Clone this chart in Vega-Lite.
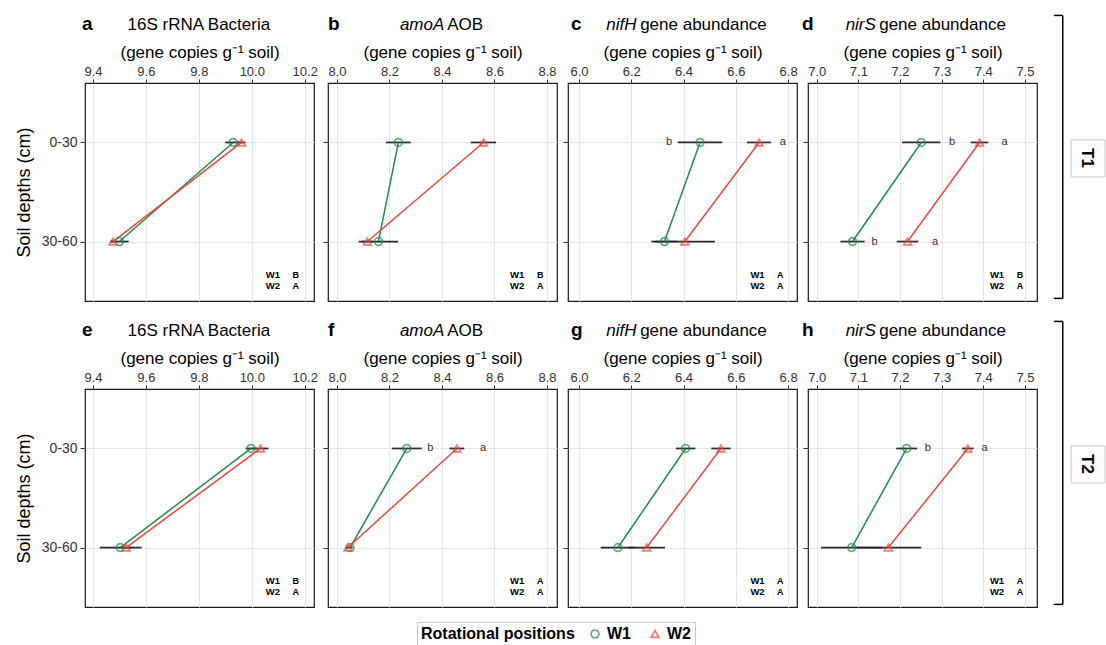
{
"$schema": "https://vega.github.io/schema/vega-lite/v6.json",
"padding": {"left": 14, "top": 14, "right": 0, "bottom": 0},
"background": "white",
"datasets": {
"pts": [
{"panel":"a","depth":"0-30","pos":"W1","mean":9.93,"lo":9.9,"hi":9.96},
{"panel":"a","depth":"0-30","pos":"W2","mean":9.961,"lo":9.946,"hi":9.976},
{"panel":"a","depth":"30-60","pos":"W1","mean":9.5,"lo":9.465,"hi":9.535},
{"panel":"a","depth":"30-60","pos":"W2","mean":9.476,"lo":9.466,"hi":9.486},
{"panel":"b","depth":"0-30","pos":"W1","mean":8.234,"lo":8.187,"hi":8.281},
{"panel":"b","depth":"0-30","pos":"W2","mean":8.558,"lo":8.51,"hi":8.606},
{"panel":"b","depth":"30-60","pos":"W1","mean":8.158,"lo":8.083,"hi":8.233},
{"panel":"b","depth":"30-60","pos":"W2","mean":8.116,"lo":8.096,"hi":8.136},
{"panel":"c","depth":"0-30","pos":"W1","mean":6.463,"lo":6.378,"hi":6.548},
{"panel":"c","depth":"0-30","pos":"W2","mean":6.689,"lo":6.643,"hi":6.735},
{"panel":"c","depth":"30-60","pos":"W1","mean":6.327,"lo":6.277,"hi":6.377},
{"panel":"c","depth":"30-60","pos":"W2","mean":6.405,"lo":6.29,"hi":6.52},
{"panel":"d","depth":"0-30","pos":"W1","mean":7.251,"lo":7.205,"hi":7.297},
{"panel":"d","depth":"0-30","pos":"W2","mean":7.391,"lo":7.37,"hi":7.412},
{"panel":"d","depth":"30-60","pos":"W1","mean":7.086,"lo":7.057,"hi":7.115},
{"panel":"d","depth":"30-60","pos":"W2","mean":7.218,"lo":7.192,"hi":7.244},
{"panel":"e","depth":"0-30","pos":"W1","mean":9.997,"lo":9.977,"hi":10.017},
{"panel":"e","depth":"0-30","pos":"W2","mean":10.033,"lo":10.003,"hi":10.063},
{"panel":"e","depth":"30-60","pos":"W1","mean":9.503,"lo":9.426,"hi":9.584},
{"panel":"e","depth":"30-60","pos":"W2","mean":9.525,"lo":9.505,"hi":9.545},
{"panel":"f","depth":"0-30","pos":"W1","mean":8.266,"lo":8.209,"hi":8.323},
{"panel":"f","depth":"0-30","pos":"W2","mean":8.457,"lo":8.429,"hi":8.485},
{"panel":"f","depth":"30-60","pos":"W1","mean":8.05,"lo":8.04,"hi":8.06},
{"panel":"f","depth":"30-60","pos":"W2","mean":8.042,"lo":8.032,"hi":8.052},
{"panel":"g","depth":"0-30","pos":"W1","mean":6.408,"lo":6.371,"hi":6.445},
{"panel":"g","depth":"0-30","pos":"W2","mean":6.543,"lo":6.506,"hi":6.58},
{"panel":"g","depth":"30-60","pos":"W1","mean":6.149,"lo":6.083,"hi":6.215},
{"panel":"g","depth":"30-60","pos":"W2","mean":6.259,"lo":6.189,"hi":6.329},
{"panel":"h","depth":"0-30","pos":"W1","mean":7.216,"lo":7.191,"hi":7.241},
{"panel":"h","depth":"0-30","pos":"W2","mean":7.363,"lo":7.349,"hi":7.377},
{"panel":"h","depth":"30-60","pos":"W1","mean":7.084,"lo":7.01,"hi":7.158},
{"panel":"h","depth":"30-60","pos":"W2","mean":7.172,"lo":7.093,"hi":7.251}
],
"letters": [
{"panel":"c","depth":"0-30","pos":"W1","letter":"b","x":6.345},
{"panel":"c","depth":"0-30","pos":"W2","letter":"a","x":6.78},
{"panel":"d","depth":"0-30","pos":"W1","letter":"b","x":7.325},
{"panel":"d","depth":"0-30","pos":"W2","letter":"a","x":7.451},
{"panel":"d","depth":"30-60","pos":"W1","letter":"b","x":7.139},
{"panel":"d","depth":"30-60","pos":"W2","letter":"a","x":7.284},
{"panel":"f","depth":"0-30","pos":"W1","letter":"b","x":8.356},
{"panel":"f","depth":"0-30","pos":"W2","letter":"a","x":8.556},
{"panel":"h","depth":"0-30","pos":"W1","letter":"b","x":7.267},
{"panel":"h","depth":"0-30","pos":"W2","letter":"a","x":7.403}
],
"sig": [
{"panel":"a","pos":"W1","group":"B"},{"panel":"a","pos":"W2","group":"A"},
{"panel":"b","pos":"W1","group":"B"},{"panel":"b","pos":"W2","group":"A"},
{"panel":"c","pos":"W1","group":"A"},{"panel":"c","pos":"W2","group":"A"},
{"panel":"d","pos":"W1","group":"B"},{"panel":"d","pos":"W2","group":"A"},
{"panel":"e","pos":"W1","group":"B"},{"panel":"e","pos":"W2","group":"A"},
{"panel":"f","pos":"W1","group":"A"},{"panel":"f","pos":"W2","group":"A"},
{"panel":"g","pos":"W1","group":"A"},{"panel":"g","pos":"W2","group":"A"},
{"panel":"h","pos":"W1","group":"A"},{"panel":"h","pos":"W2","group":"A"}
],
"titles": [
{"panel":"a","tag":"a","gene":"","name":"16S rRNA Bacteria"},
{"panel":"b","tag":"b","gene":"amoA","name":"AOB"},
{"panel":"c","tag":"c","gene":"nifH","name":"gene abundance"},
{"panel":"d","tag":"d","gene":"nirS","name":"gene abundance"},
{"panel":"e","tag":"e","gene":"","name":"16S rRNA Bacteria"},
{"panel":"f","tag":"f","gene":"amoA","name":"AOB"},
{"panel":"g","tag":"g","gene":"nifH","name":"gene abundance"},
{"panel":"h","tag":"h","gene":"nirS","name":"gene abundance"}
],
"strips": [{"label":"T1"},{"label":"T2"}]
},
"config": {
"font": "Liberation Sans",
"view": {"stroke": "#1a1a1a", "strokeWidth": 1.2},
"axis": {"grid": true, "gridColor": "#e6e6e6", "gridWidth": 1, "domain": false, "tickColor": "#333333", "tickSize": 4, "tickWidth": 1, "labelColor": "#333333", "labelFont": "Liberation Sans", "titleFont": "Liberation Sans", "titleFontWeight": "normal", "titleColor": "#000000"},
"axisX": {"labelFontSize": 13, "labelPadding": 1, "labelFlush": false, "labelOverlap": false, "titleFontSize": 17, "titlePadding": 4},
"axisY": {"labelFontSize": 14, "labelPadding": 3, "tickSize": 5, "titleFontSize": 18, "titlePadding": 8},
"legend": {"titleFontSize": 16, "titleFontWeight": "bold", "titleColor": "#000000", "labelFontSize": 16, "labelFontWeight": "bold", "labelColor": "#000000", "symbolStrokeWidth": 1.8, "symbolSize": 60}
},
"resolve": {"scale": {"color": "shared", "shape": "shared"}},
"vconcat": [
{"spacing": 3, "hconcat": [
{"width": 229, "height": 218, "layer": [
 {"data": {"name": "pts"}, "transform": [{"filter": "datum.panel=='a'"}], "mark": {"type": "rule", "color": "#2a2a2a", "strokeWidth": 1.7},
  "encoding": {"x": {"field": "lo", "type": "quantitative", "scale": {"domain": [9.37, 10.235], "nice": false, "zero": false}, "axis": {"orient": "top", "values": [9.4,9.5,9.6,9.7,9.8,9.9,10.0,10.1,10.2], "labelExpr": "round(datum.value*10)%2==0 ? format(datum.value,'.1f') : ''", "tickOpacity": {"condition": {"test": "round(datum.value*10)%2==0", "value": 1}, "value": 0}, "title": "(gene copies g⁻¹ soil)"}}, "x2": {"field": "hi"},
   "y": {"field": "depth", "type": "nominal", "scale": {"type": "point", "domain": ["0-30","30-60"], "padding": 0.6}, "axis": {"title": "Soil depths (cm)"}}}},
 {"data": {"name": "pts"}, "transform": [{"filter": "datum.panel=='a'"}], "mark": {"type": "line", "strokeWidth": 1.5},
  "encoding": {"x": {"field": "mean", "type": "quantitative", "scale": {"domain": [9.37, 10.235], "nice": false, "zero": false}}, "y": {"field": "depth", "type": "nominal", "scale": {"type": "point", "domain": ["0-30","30-60"], "padding": 0.6}}, "color": {"field": "pos", "type": "nominal", "scale": {"domain": ["W1","W2"], "range": ["#1e8c4a","#f2453b"]}, "title": "Rotational positions", "legend": {"orient": "none", "legendX": 332, "legendY": 539, "direction": "horizontal", "titleOrient": "left", "strokeColor": "#c8c8c8", "fillColor": "white", "padding": 4, "columnPadding": 16, "titlePadding": 12}}}},
 {"data": {"name": "pts"}, "transform": [{"filter": "datum.panel=='a'"}], "mark": {"type": "point", "filled": false, "strokeWidth": 1.7, "size": 60},
  "encoding": {"x": {"field": "mean", "type": "quantitative", "scale": {"domain": [9.37, 10.235], "nice": false, "zero": false}}, "y": {"field": "depth", "type": "nominal", "scale": {"type": "point", "domain": ["0-30","30-60"], "padding": 0.6}}, "color": {"field": "pos", "type": "nominal", "scale": {"domain": ["W1","W2"], "range": ["#1e8c4a","#f2453b"]}, "title": "Rotational positions", "legend": {"orient": "none", "legendX": 332, "legendY": 539, "direction": "horizontal", "titleOrient": "left", "strokeColor": "#c8c8c8", "fillColor": "white", "padding": 4, "columnPadding": 16, "titlePadding": 12}}, "shape": {"field": "pos", "type": "nominal", "scale": {"domain": ["W1","W2"], "range": ["circle","triangle-up"]}, "title": "Rotational positions", "legend": {"orient": "none", "legendX": 332, "legendY": 539, "direction": "horizontal", "titleOrient": "left", "strokeColor": "#c8c8c8", "fillColor": "white", "padding": 4, "columnPadding": 16, "titlePadding": 12}}}},
 {"data": {"name": "sig"}, "transform": [{"filter": "datum.panel=='a' && datum.pos=='W1'"}], "mark": {"type": "text", "fontWeight": "bold", "fontSize": 9.5, "dy": 33.5},
  "encoding": {"x": {"datum": 10.08, "type": "quantitative", "scale": {"domain": [9.37, 10.235], "nice": false, "zero": false}}, "y": {"datum": "30-60", "type": "nominal", "scale": {"type": "point", "domain": ["0-30","30-60"], "padding": 0.6}}, "text": {"field": "pos"}}},
 {"data": {"name": "sig"}, "transform": [{"filter": "datum.panel=='a' && datum.pos=='W1'"}], "mark": {"type": "text", "fontWeight": "bold", "fontSize": 9, "dy": 33.5},
  "encoding": {"x": {"datum": 10.166, "type": "quantitative", "scale": {"domain": [9.37, 10.235], "nice": false, "zero": false}}, "y": {"datum": "30-60", "type": "nominal", "scale": {"type": "point", "domain": ["0-30","30-60"], "padding": 0.6}}, "text": {"field": "group"}}},
 {"data": {"name": "sig"}, "transform": [{"filter": "datum.panel=='a' && datum.pos=='W2'"}], "mark": {"type": "text", "fontWeight": "bold", "fontSize": 9.5, "dy": 44.5},
  "encoding": {"x": {"datum": 10.08, "type": "quantitative", "scale": {"domain": [9.37, 10.235], "nice": false, "zero": false}}, "y": {"datum": "30-60", "type": "nominal", "scale": {"type": "point", "domain": ["0-30","30-60"], "padding": 0.6}}, "text": {"field": "pos"}}},
 {"data": {"name": "sig"}, "transform": [{"filter": "datum.panel=='a' && datum.pos=='W2'"}], "mark": {"type": "text", "fontWeight": "bold", "fontSize": 9, "dy": 44.5},
  "encoding": {"x": {"datum": 10.166, "type": "quantitative", "scale": {"domain": [9.37, 10.235], "nice": false, "zero": false}}, "y": {"datum": "30-60", "type": "nominal", "scale": {"type": "point", "domain": ["0-30","30-60"], "padding": 0.6}}, "text": {"field": "group"}}},
 {"data": {"name": "titles"}, "transform": [{"filter": "datum.panel=='a'"}], "mark": {"type": "text", "fontWeight": "bold", "fontSize": 19, "align": "left", "baseline": "alphabetic", "dy": -112.5, "dx": -3},
  "encoding": {"x": {"datum": 9.37, "type": "quantitative", "scale": {"domain": [9.37, 10.235], "nice": false, "zero": false}}, "y": {"datum": "0-30", "type": "nominal", "scale": {"type": "point", "domain": ["0-30","30-60"], "padding": 0.6}}, "text": {"field": "tag"}}},
 {"data": {"name": "titles"}, "transform": [{"filter": "datum.panel=='a'"}], "mark": {"type": "text", "fontSize": 17, "align": "center", "baseline": "alphabetic", "dy": -112.5},
  "encoding": {"x": {"datum": 9.8, "type": "quantitative", "scale": {"domain": [9.37, 10.235], "nice": false, "zero": false}}, "y": {"datum": "0-30", "type": "nominal", "scale": {"type": "point", "domain": ["0-30","30-60"], "padding": 0.6}}, "text": {"field": "name"}}}
]},
{"width": 229, "height": 218, "layer": [
 {"data": {"name": "pts"}, "transform": [{"filter": "datum.panel=='b'"}], "mark": {"type": "rule", "color": "#2a2a2a", "strokeWidth": 1.7},
  "encoding": {"x": {"field": "lo", "type": "quantitative", "scale": {"domain": [7.966, 8.838], "nice": false, "zero": false}, "axis": {"orient": "top", "values": [8.0,8.1,8.2,8.3,8.4,8.5,8.6,8.7,8.8], "labelExpr": "round(datum.value*10)%2==0 ? format(datum.value,'.1f') : ''", "tickOpacity": {"condition": {"test": "round(datum.value*10)%2==0", "value": 1}, "value": 0}, "title": "(gene copies g⁻¹ soil)"}}, "x2": {"field": "hi"},
   "y": {"field": "depth", "type": "nominal", "scale": {"type": "point", "domain": ["0-30","30-60"], "padding": 0.6}, "axis": {"labels": false, "title": null}}}},
 {"data": {"name": "pts"}, "transform": [{"filter": "datum.panel=='b'"}], "mark": {"type": "line", "strokeWidth": 1.5},
  "encoding": {"x": {"field": "mean", "type": "quantitative", "scale": {"domain": [7.966, 8.838], "nice": false, "zero": false}}, "y": {"field": "depth", "type": "nominal", "scale": {"type": "point", "domain": ["0-30","30-60"], "padding": 0.6}}, "color": {"field": "pos", "type": "nominal", "scale": {"domain": ["W1","W2"], "range": ["#1e8c4a","#f2453b"]}, "title": "Rotational positions"}}},
 {"data": {"name": "pts"}, "transform": [{"filter": "datum.panel=='b'"}], "mark": {"type": "point", "filled": false, "strokeWidth": 1.7, "size": 60},
  "encoding": {"x": {"field": "mean", "type": "quantitative", "scale": {"domain": [7.966, 8.838], "nice": false, "zero": false}}, "y": {"field": "depth", "type": "nominal", "scale": {"type": "point", "domain": ["0-30","30-60"], "padding": 0.6}}, "color": {"field": "pos", "type": "nominal", "scale": {"domain": ["W1","W2"], "range": ["#1e8c4a","#f2453b"]}, "title": "Rotational positions"}, "shape": {"field": "pos", "type": "nominal", "scale": {"domain": ["W1","W2"], "range": ["circle","triangle-up"]}, "title": "Rotational positions"}}},
 {"data": {"name": "sig"}, "transform": [{"filter": "datum.panel=='b' && datum.pos=='W1'"}], "mark": {"type": "text", "fontWeight": "bold", "fontSize": 9.5, "dy": 33.5},
  "encoding": {"x": {"datum": 8.686, "type": "quantitative", "scale": {"domain": [7.966, 8.838], "nice": false, "zero": false}}, "y": {"datum": "30-60", "type": "nominal", "scale": {"type": "point", "domain": ["0-30","30-60"], "padding": 0.6}}, "text": {"field": "pos"}}},
 {"data": {"name": "sig"}, "transform": [{"filter": "datum.panel=='b' && datum.pos=='W1'"}], "mark": {"type": "text", "fontWeight": "bold", "fontSize": 9, "dy": 33.5},
  "encoding": {"x": {"datum": 8.774, "type": "quantitative", "scale": {"domain": [7.966, 8.838], "nice": false, "zero": false}}, "y": {"datum": "30-60", "type": "nominal", "scale": {"type": "point", "domain": ["0-30","30-60"], "padding": 0.6}}, "text": {"field": "group"}}},
 {"data": {"name": "sig"}, "transform": [{"filter": "datum.panel=='b' && datum.pos=='W2'"}], "mark": {"type": "text", "fontWeight": "bold", "fontSize": 9.5, "dy": 44.5},
  "encoding": {"x": {"datum": 8.686, "type": "quantitative", "scale": {"domain": [7.966, 8.838], "nice": false, "zero": false}}, "y": {"datum": "30-60", "type": "nominal", "scale": {"type": "point", "domain": ["0-30","30-60"], "padding": 0.6}}, "text": {"field": "pos"}}},
 {"data": {"name": "sig"}, "transform": [{"filter": "datum.panel=='b' && datum.pos=='W2'"}], "mark": {"type": "text", "fontWeight": "bold", "fontSize": 9, "dy": 44.5},
  "encoding": {"x": {"datum": 8.774, "type": "quantitative", "scale": {"domain": [7.966, 8.838], "nice": false, "zero": false}}, "y": {"datum": "30-60", "type": "nominal", "scale": {"type": "point", "domain": ["0-30","30-60"], "padding": 0.6}}, "text": {"field": "group"}}},
 {"data": {"name": "titles"}, "transform": [{"filter": "datum.panel=='b'"}], "mark": {"type": "text", "fontWeight": "bold", "fontSize": 19, "align": "left", "baseline": "alphabetic", "dy": -112.5, "dx": 0},
  "encoding": {"x": {"datum": 7.966, "type": "quantitative", "scale": {"domain": [7.966, 8.838], "nice": false, "zero": false}}, "y": {"datum": "0-30", "type": "nominal", "scale": {"type": "point", "domain": ["0-30","30-60"], "padding": 0.6}}, "text": {"field": "tag"}}},
 {"data": {"name": "titles"}, "transform": [{"filter": "datum.panel=='b'"}], "mark": {"type": "text", "fontSize": 17, "fontStyle": "italic", "align": "right", "baseline": "alphabetic", "dy": -112.5},
  "encoding": {"x": {"datum": 8.409, "type": "quantitative", "scale": {"domain": [7.966, 8.838], "nice": false, "zero": false}}, "y": {"datum": "0-30", "type": "nominal", "scale": {"type": "point", "domain": ["0-30","30-60"], "padding": 0.6}}, "text": {"field": "gene"}}},
 {"data": {"name": "titles"}, "transform": [{"filter": "datum.panel=='b'"}], "mark": {"type": "text", "fontSize": 17, "align": "left", "baseline": "alphabetic", "dy": -112.5},
  "encoding": {"x": {"datum": 8.42, "type": "quantitative", "scale": {"domain": [7.966, 8.838], "nice": false, "zero": false}}, "y": {"datum": "0-30", "type": "nominal", "scale": {"type": "point", "domain": ["0-30","30-60"], "padding": 0.6}}, "text": {"field": "name"}}}
]},
{"width": 229, "height": 218, "layer": [
 {"data": {"name": "pts"}, "transform": [{"filter": "datum.panel=='c'"}], "mark": {"type": "rule", "color": "#2a2a2a", "strokeWidth": 1.7},
  "encoding": {"x": {"field": "lo", "type": "quantitative", "scale": {"domain": [5.958, 6.834], "nice": false, "zero": false}, "axis": {"orient": "top", "values": [6.0,6.1,6.2,6.3,6.4,6.5,6.6,6.7,6.8], "labelExpr": "round(datum.value*10)%2==0 ? format(datum.value,'.1f') : ''", "tickOpacity": {"condition": {"test": "round(datum.value*10)%2==0", "value": 1}, "value": 0}, "title": "(gene copies g⁻¹ soil)"}}, "x2": {"field": "hi"},
   "y": {"field": "depth", "type": "nominal", "scale": {"type": "point", "domain": ["0-30","30-60"], "padding": 0.6}, "axis": {"labels": false, "title": null}}}},
 {"data": {"name": "pts"}, "transform": [{"filter": "datum.panel=='c'"}], "mark": {"type": "line", "strokeWidth": 1.5},
  "encoding": {"x": {"field": "mean", "type": "quantitative", "scale": {"domain": [5.958, 6.834], "nice": false, "zero": false}}, "y": {"field": "depth", "type": "nominal", "scale": {"type": "point", "domain": ["0-30","30-60"], "padding": 0.6}}, "color": {"field": "pos", "type": "nominal", "scale": {"domain": ["W1","W2"], "range": ["#1e8c4a","#f2453b"]}, "title": "Rotational positions"}}},
 {"data": {"name": "pts"}, "transform": [{"filter": "datum.panel=='c'"}], "mark": {"type": "point", "filled": false, "strokeWidth": 1.7, "size": 60},
  "encoding": {"x": {"field": "mean", "type": "quantitative", "scale": {"domain": [5.958, 6.834], "nice": false, "zero": false}}, "y": {"field": "depth", "type": "nominal", "scale": {"type": "point", "domain": ["0-30","30-60"], "padding": 0.6}}, "color": {"field": "pos", "type": "nominal", "scale": {"domain": ["W1","W2"], "range": ["#1e8c4a","#f2453b"]}, "title": "Rotational positions"}, "shape": {"field": "pos", "type": "nominal", "scale": {"domain": ["W1","W2"], "range": ["circle","triangle-up"]}, "title": "Rotational positions"}}},
 {"data": {"name": "letters"}, "transform": [{"filter": "datum.panel=='c'"}], "mark": {"type": "text", "fontSize": 11, "color": "#333333"},
  "encoding": {"x": {"field": "x", "type": "quantitative", "scale": {"domain": [5.958, 6.834], "nice": false, "zero": false}}, "y": {"field": "depth", "type": "nominal", "scale": {"type": "point", "domain": ["0-30","30-60"], "padding": 0.6}}, "text": {"field": "letter"}}},
 {"data": {"name": "sig"}, "transform": [{"filter": "datum.panel=='c' && datum.pos=='W1'"}], "mark": {"type": "text", "fontWeight": "bold", "fontSize": 9.5, "dy": 33.5},
  "encoding": {"x": {"datum": 6.683, "type": "quantitative", "scale": {"domain": [5.958, 6.834], "nice": false, "zero": false}}, "y": {"datum": "30-60", "type": "nominal", "scale": {"type": "point", "domain": ["0-30","30-60"], "padding": 0.6}}, "text": {"field": "pos"}}},
 {"data": {"name": "sig"}, "transform": [{"filter": "datum.panel=='c' && datum.pos=='W1'"}], "mark": {"type": "text", "fontWeight": "bold", "fontSize": 9, "dy": 33.5},
  "encoding": {"x": {"datum": 6.77, "type": "quantitative", "scale": {"domain": [5.958, 6.834], "nice": false, "zero": false}}, "y": {"datum": "30-60", "type": "nominal", "scale": {"type": "point", "domain": ["0-30","30-60"], "padding": 0.6}}, "text": {"field": "group"}}},
 {"data": {"name": "sig"}, "transform": [{"filter": "datum.panel=='c' && datum.pos=='W2'"}], "mark": {"type": "text", "fontWeight": "bold", "fontSize": 9.5, "dy": 44.5},
  "encoding": {"x": {"datum": 6.683, "type": "quantitative", "scale": {"domain": [5.958, 6.834], "nice": false, "zero": false}}, "y": {"datum": "30-60", "type": "nominal", "scale": {"type": "point", "domain": ["0-30","30-60"], "padding": 0.6}}, "text": {"field": "pos"}}},
 {"data": {"name": "sig"}, "transform": [{"filter": "datum.panel=='c' && datum.pos=='W2'"}], "mark": {"type": "text", "fontWeight": "bold", "fontSize": 9, "dy": 44.5},
  "encoding": {"x": {"datum": 6.77, "type": "quantitative", "scale": {"domain": [5.958, 6.834], "nice": false, "zero": false}}, "y": {"datum": "30-60", "type": "nominal", "scale": {"type": "point", "domain": ["0-30","30-60"], "padding": 0.6}}, "text": {"field": "group"}}},
 {"data": {"name": "titles"}, "transform": [{"filter": "datum.panel=='c'"}], "mark": {"type": "text", "fontWeight": "bold", "fontSize": 19, "align": "left", "baseline": "alphabetic", "dy": -112.5, "dx": 3},
  "encoding": {"x": {"datum": 5.958, "type": "quantitative", "scale": {"domain": [5.958, 6.834], "nice": false, "zero": false}}, "y": {"datum": "0-30", "type": "nominal", "scale": {"type": "point", "domain": ["0-30","30-60"], "padding": 0.6}}, "text": {"field": "tag"}}},
 {"data": {"name": "titles"}, "transform": [{"filter": "datum.panel=='c'"}], "mark": {"type": "text", "fontSize": 17, "fontStyle": "italic", "align": "right", "baseline": "alphabetic", "dy": -112.5},
  "encoding": {"x": {"datum": 6.22, "type": "quantitative", "scale": {"domain": [5.958, 6.834], "nice": false, "zero": false}}, "y": {"datum": "0-30", "type": "nominal", "scale": {"type": "point", "domain": ["0-30","30-60"], "padding": 0.6}}, "text": {"field": "gene"}}},
 {"data": {"name": "titles"}, "transform": [{"filter": "datum.panel=='c'"}], "mark": {"type": "text", "fontSize": 17, "align": "left", "baseline": "alphabetic", "dy": -112.5},
  "encoding": {"x": {"datum": 6.234, "type": "quantitative", "scale": {"domain": [5.958, 6.834], "nice": false, "zero": false}}, "y": {"datum": "0-30", "type": "nominal", "scale": {"type": "point", "domain": ["0-30","30-60"], "padding": 0.6}}, "text": {"field": "name"}}}
]},
{"width": 229, "height": 218, "layer": [
 {"data": {"name": "pts"}, "transform": [{"filter": "datum.panel=='d'"}], "mark": {"type": "rule", "color": "#2a2a2a", "strokeWidth": 1.7},
  "encoding": {"x": {"field": "lo", "type": "quantitative", "scale": {"domain": [6.979, 7.529], "nice": false, "zero": false}, "axis": {"orient": "top", "values": [7.0,7.05,7.1,7.15,7.2,7.25,7.3,7.35,7.4,7.45,7.5], "labelExpr": "round(datum.value*20)%2==0 ? format(datum.value,'.1f') : ''", "tickOpacity": {"condition": {"test": "round(datum.value*20)%2==0", "value": 1}, "value": 0}, "title": "(gene copies g⁻¹ soil)"}}, "x2": {"field": "hi"},
   "y": {"field": "depth", "type": "nominal", "scale": {"type": "point", "domain": ["0-30","30-60"], "padding": 0.6}, "axis": {"labels": false, "title": null}}}},
 {"data": {"name": "pts"}, "transform": [{"filter": "datum.panel=='d'"}], "mark": {"type": "line", "strokeWidth": 1.5},
  "encoding": {"x": {"field": "mean", "type": "quantitative", "scale": {"domain": [6.979, 7.529], "nice": false, "zero": false}}, "y": {"field": "depth", "type": "nominal", "scale": {"type": "point", "domain": ["0-30","30-60"], "padding": 0.6}}, "color": {"field": "pos", "type": "nominal", "scale": {"domain": ["W1","W2"], "range": ["#1e8c4a","#f2453b"]}, "title": "Rotational positions"}}},
 {"data": {"name": "pts"}, "transform": [{"filter": "datum.panel=='d'"}], "mark": {"type": "point", "filled": false, "strokeWidth": 1.7, "size": 60},
  "encoding": {"x": {"field": "mean", "type": "quantitative", "scale": {"domain": [6.979, 7.529], "nice": false, "zero": false}}, "y": {"field": "depth", "type": "nominal", "scale": {"type": "point", "domain": ["0-30","30-60"], "padding": 0.6}}, "color": {"field": "pos", "type": "nominal", "scale": {"domain": ["W1","W2"], "range": ["#1e8c4a","#f2453b"]}, "title": "Rotational positions"}, "shape": {"field": "pos", "type": "nominal", "scale": {"domain": ["W1","W2"], "range": ["circle","triangle-up"]}, "title": "Rotational positions"}}},
 {"data": {"name": "letters"}, "transform": [{"filter": "datum.panel=='d'"}], "mark": {"type": "text", "fontSize": 11, "color": "#333333"},
  "encoding": {"x": {"field": "x", "type": "quantitative", "scale": {"domain": [6.979, 7.529], "nice": false, "zero": false}}, "y": {"field": "depth", "type": "nominal", "scale": {"type": "point", "domain": ["0-30","30-60"], "padding": 0.6}}, "text": {"field": "letter"}}},
 {"data": {"name": "sig"}, "transform": [{"filter": "datum.panel=='d' && datum.pos=='W1'"}], "mark": {"type": "text", "fontWeight": "bold", "fontSize": 9.5, "dy": 33.5},
  "encoding": {"x": {"datum": 7.433, "type": "quantitative", "scale": {"domain": [6.979, 7.529], "nice": false, "zero": false}}, "y": {"datum": "30-60", "type": "nominal", "scale": {"type": "point", "domain": ["0-30","30-60"], "padding": 0.6}}, "text": {"field": "pos"}}},
 {"data": {"name": "sig"}, "transform": [{"filter": "datum.panel=='d' && datum.pos=='W1'"}], "mark": {"type": "text", "fontWeight": "bold", "fontSize": 9, "dy": 33.5},
  "encoding": {"x": {"datum": 7.488, "type": "quantitative", "scale": {"domain": [6.979, 7.529], "nice": false, "zero": false}}, "y": {"datum": "30-60", "type": "nominal", "scale": {"type": "point", "domain": ["0-30","30-60"], "padding": 0.6}}, "text": {"field": "group"}}},
 {"data": {"name": "sig"}, "transform": [{"filter": "datum.panel=='d' && datum.pos=='W2'"}], "mark": {"type": "text", "fontWeight": "bold", "fontSize": 9.5, "dy": 44.5},
  "encoding": {"x": {"datum": 7.433, "type": "quantitative", "scale": {"domain": [6.979, 7.529], "nice": false, "zero": false}}, "y": {"datum": "30-60", "type": "nominal", "scale": {"type": "point", "domain": ["0-30","30-60"], "padding": 0.6}}, "text": {"field": "pos"}}},
 {"data": {"name": "sig"}, "transform": [{"filter": "datum.panel=='d' && datum.pos=='W2'"}], "mark": {"type": "text", "fontWeight": "bold", "fontSize": 9, "dy": 44.5},
  "encoding": {"x": {"datum": 7.488, "type": "quantitative", "scale": {"domain": [6.979, 7.529], "nice": false, "zero": false}}, "y": {"datum": "30-60", "type": "nominal", "scale": {"type": "point", "domain": ["0-30","30-60"], "padding": 0.6}}, "text": {"field": "group"}}},
 {"data": {"name": "titles"}, "transform": [{"filter": "datum.panel=='d'"}], "mark": {"type": "text", "fontWeight": "bold", "fontSize": 19, "align": "left", "baseline": "alphabetic", "dy": -112.5, "dx": -6},
  "encoding": {"x": {"datum": 6.979, "type": "quantitative", "scale": {"domain": [6.979, 7.529], "nice": false, "zero": false}}, "y": {"datum": "0-30", "type": "nominal", "scale": {"type": "point", "domain": ["0-30","30-60"], "padding": 0.6}}, "text": {"field": "tag"}}},
 {"data": {"name": "titles"}, "transform": [{"filter": "datum.panel=='d'"}], "mark": {"type": "text", "fontSize": 17, "fontStyle": "italic", "align": "right", "baseline": "alphabetic", "dy": -112.5},
  "encoding": {"x": {"datum": 7.142, "type": "quantitative", "scale": {"domain": [6.979, 7.529], "nice": false, "zero": false}}, "y": {"datum": "0-30", "type": "nominal", "scale": {"type": "point", "domain": ["0-30","30-60"], "padding": 0.6}}, "text": {"field": "gene"}}},
 {"data": {"name": "titles"}, "transform": [{"filter": "datum.panel=='d'"}], "mark": {"type": "text", "fontSize": 17, "align": "left", "baseline": "alphabetic", "dy": -112.5},
  "encoding": {"x": {"datum": 7.15, "type": "quantitative", "scale": {"domain": [6.979, 7.529], "nice": false, "zero": false}}, "y": {"datum": "0-30", "type": "nominal", "scale": {"type": "point", "domain": ["0-30","30-60"], "padding": 0.6}}, "text": {"field": "name"}}}
]},
{"width": 64, "height": 218, "view": {"stroke": null}, "data": {"name": "strips"}, "transform": [{"filter": "datum.label=='T1'"}], "layer": [
 {"mark": {"type": "rule", "color": "#000000", "strokeWidth": 1.5}, "encoding": {"x": {"datum": 0.34, "type": "quantitative", "scale": {"domain": [0, 1]}, "axis": null}, "y": {"datum": 0.012, "type": "quantitative", "scale": {"domain": [0, 1]}, "axis": null}, "y2": {"datum": 1.31}}},
 {"mark": {"type": "rule", "color": "#000000", "strokeWidth": 1.5}, "encoding": {"x": {"datum": 0.2, "type": "quantitative", "scale": {"domain": [0, 1]}, "axis": null}, "x2": {"datum": 0.34}, "y": {"datum": 1.31, "type": "quantitative", "scale": {"domain": [0, 1]}, "axis": null}}},
 {"mark": {"type": "rule", "color": "#000000", "strokeWidth": 1.5}, "encoding": {"x": {"datum": 0.2, "type": "quantitative", "scale": {"domain": [0, 1]}, "axis": null}, "x2": {"datum": 0.34}, "y": {"datum": 0.012, "type": "quantitative", "scale": {"domain": [0, 1]}, "axis": null}}},
 {"mark": {"type": "rect", "fill": "white", "stroke": "#c8c8c8", "strokeWidth": 1}, "encoding": {"x": {"datum": 0.47, "type": "quantitative", "scale": {"domain": [0, 1]}, "axis": null}, "x2": {"datum": 1.0}, "y": {"datum": 0.569, "type": "quantitative", "scale": {"domain": [0, 1]}, "axis": null}, "y2": {"datum": 0.739}}},
 {"mark": {"type": "text", "angle": 90, "fontWeight": "bold", "fontSize": 17, "color": "#000000"}, "encoding": {"x": {"datum": 0.72, "type": "quantitative", "scale": {"domain": [0, 1]}, "axis": null}, "y": {"datum": 0.656, "type": "quantitative", "scale": {"domain": [0, 1]}, "axis": null}, "text": {"field": "label"}}}
]}
]},
{"spacing": 3, "hconcat": [
{"width": 229, "height": 218, "layer": [
 {"data": {"name": "pts"}, "transform": [{"filter": "datum.panel=='e'"}], "mark": {"type": "rule", "color": "#2a2a2a", "strokeWidth": 1.7},
  "encoding": {"x": {"field": "lo", "type": "quantitative", "scale": {"domain": [9.37, 10.235], "nice": false, "zero": false}, "axis": {"orient": "top", "values": [9.4,9.5,9.6,9.7,9.8,9.9,10.0,10.1,10.2], "labelExpr": "round(datum.value*10)%2==0 ? format(datum.value,'.1f') : ''", "tickOpacity": {"condition": {"test": "round(datum.value*10)%2==0", "value": 1}, "value": 0}, "title": "(gene copies g⁻¹ soil)"}}, "x2": {"field": "hi"},
   "y": {"field": "depth", "type": "nominal", "scale": {"type": "point", "domain": ["0-30","30-60"], "padding": 0.6}, "axis": {"title": "Soil depths (cm)"}}}},
 {"data": {"name": "pts"}, "transform": [{"filter": "datum.panel=='e'"}], "mark": {"type": "line", "strokeWidth": 1.5},
  "encoding": {"x": {"field": "mean", "type": "quantitative", "scale": {"domain": [9.37, 10.235], "nice": false, "zero": false}}, "y": {"field": "depth", "type": "nominal", "scale": {"type": "point", "domain": ["0-30","30-60"], "padding": 0.6}}, "color": {"field": "pos", "type": "nominal", "scale": {"domain": ["W1","W2"], "range": ["#1e8c4a","#f2453b"]}, "title": "Rotational positions"}}},
 {"data": {"name": "pts"}, "transform": [{"filter": "datum.panel=='e'"}], "mark": {"type": "point", "filled": false, "strokeWidth": 1.7, "size": 60},
  "encoding": {"x": {"field": "mean", "type": "quantitative", "scale": {"domain": [9.37, 10.235], "nice": false, "zero": false}}, "y": {"field": "depth", "type": "nominal", "scale": {"type": "point", "domain": ["0-30","30-60"], "padding": 0.6}}, "color": {"field": "pos", "type": "nominal", "scale": {"domain": ["W1","W2"], "range": ["#1e8c4a","#f2453b"]}, "title": "Rotational positions"}, "shape": {"field": "pos", "type": "nominal", "scale": {"domain": ["W1","W2"], "range": ["circle","triangle-up"]}, "title": "Rotational positions"}}},
 {"data": {"name": "sig"}, "transform": [{"filter": "datum.panel=='e' && datum.pos=='W1'"}], "mark": {"type": "text", "fontWeight": "bold", "fontSize": 9.5, "dy": 33.5},
  "encoding": {"x": {"datum": 10.08, "type": "quantitative", "scale": {"domain": [9.37, 10.235], "nice": false, "zero": false}}, "y": {"datum": "30-60", "type": "nominal", "scale": {"type": "point", "domain": ["0-30","30-60"], "padding": 0.6}}, "text": {"field": "pos"}}},
 {"data": {"name": "sig"}, "transform": [{"filter": "datum.panel=='e' && datum.pos=='W1'"}], "mark": {"type": "text", "fontWeight": "bold", "fontSize": 9, "dy": 33.5},
  "encoding": {"x": {"datum": 10.166, "type": "quantitative", "scale": {"domain": [9.37, 10.235], "nice": false, "zero": false}}, "y": {"datum": "30-60", "type": "nominal", "scale": {"type": "point", "domain": ["0-30","30-60"], "padding": 0.6}}, "text": {"field": "group"}}},
 {"data": {"name": "sig"}, "transform": [{"filter": "datum.panel=='e' && datum.pos=='W2'"}], "mark": {"type": "text", "fontWeight": "bold", "fontSize": 9.5, "dy": 44.5},
  "encoding": {"x": {"datum": 10.08, "type": "quantitative", "scale": {"domain": [9.37, 10.235], "nice": false, "zero": false}}, "y": {"datum": "30-60", "type": "nominal", "scale": {"type": "point", "domain": ["0-30","30-60"], "padding": 0.6}}, "text": {"field": "pos"}}},
 {"data": {"name": "sig"}, "transform": [{"filter": "datum.panel=='e' && datum.pos=='W2'"}], "mark": {"type": "text", "fontWeight": "bold", "fontSize": 9, "dy": 44.5},
  "encoding": {"x": {"datum": 10.166, "type": "quantitative", "scale": {"domain": [9.37, 10.235], "nice": false, "zero": false}}, "y": {"datum": "30-60", "type": "nominal", "scale": {"type": "point", "domain": ["0-30","30-60"], "padding": 0.6}}, "text": {"field": "group"}}},
 {"data": {"name": "titles"}, "transform": [{"filter": "datum.panel=='e'"}], "mark": {"type": "text", "fontWeight": "bold", "fontSize": 19, "align": "left", "baseline": "alphabetic", "dy": -112.5, "dx": -3},
  "encoding": {"x": {"datum": 9.37, "type": "quantitative", "scale": {"domain": [9.37, 10.235], "nice": false, "zero": false}}, "y": {"datum": "0-30", "type": "nominal", "scale": {"type": "point", "domain": ["0-30","30-60"], "padding": 0.6}}, "text": {"field": "tag"}}},
 {"data": {"name": "titles"}, "transform": [{"filter": "datum.panel=='e'"}], "mark": {"type": "text", "fontSize": 17, "align": "center", "baseline": "alphabetic", "dy": -112.5},
  "encoding": {"x": {"datum": 9.8, "type": "quantitative", "scale": {"domain": [9.37, 10.235], "nice": false, "zero": false}}, "y": {"datum": "0-30", "type": "nominal", "scale": {"type": "point", "domain": ["0-30","30-60"], "padding": 0.6}}, "text": {"field": "name"}}}
]},
{"width": 229, "height": 218, "layer": [
 {"data": {"name": "pts"}, "transform": [{"filter": "datum.panel=='f'"}], "mark": {"type": "rule", "color": "#2a2a2a", "strokeWidth": 1.7},
  "encoding": {"x": {"field": "lo", "type": "quantitative", "scale": {"domain": [7.966, 8.838], "nice": false, "zero": false}, "axis": {"orient": "top", "values": [8.0,8.1,8.2,8.3,8.4,8.5,8.6,8.7,8.8], "labelExpr": "round(datum.value*10)%2==0 ? format(datum.value,'.1f') : ''", "tickOpacity": {"condition": {"test": "round(datum.value*10)%2==0", "value": 1}, "value": 0}, "title": "(gene copies g⁻¹ soil)"}}, "x2": {"field": "hi"},
   "y": {"field": "depth", "type": "nominal", "scale": {"type": "point", "domain": ["0-30","30-60"], "padding": 0.6}, "axis": {"labels": false, "title": null}}}},
 {"data": {"name": "pts"}, "transform": [{"filter": "datum.panel=='f'"}], "mark": {"type": "line", "strokeWidth": 1.5},
  "encoding": {"x": {"field": "mean", "type": "quantitative", "scale": {"domain": [7.966, 8.838], "nice": false, "zero": false}}, "y": {"field": "depth", "type": "nominal", "scale": {"type": "point", "domain": ["0-30","30-60"], "padding": 0.6}}, "color": {"field": "pos", "type": "nominal", "scale": {"domain": ["W1","W2"], "range": ["#1e8c4a","#f2453b"]}, "title": "Rotational positions"}}},
 {"data": {"name": "pts"}, "transform": [{"filter": "datum.panel=='f'"}], "mark": {"type": "point", "filled": false, "strokeWidth": 1.7, "size": 60},
  "encoding": {"x": {"field": "mean", "type": "quantitative", "scale": {"domain": [7.966, 8.838], "nice": false, "zero": false}}, "y": {"field": "depth", "type": "nominal", "scale": {"type": "point", "domain": ["0-30","30-60"], "padding": 0.6}}, "color": {"field": "pos", "type": "nominal", "scale": {"domain": ["W1","W2"], "range": ["#1e8c4a","#f2453b"]}, "title": "Rotational positions"}, "shape": {"field": "pos", "type": "nominal", "scale": {"domain": ["W1","W2"], "range": ["circle","triangle-up"]}, "title": "Rotational positions"}}},
 {"data": {"name": "letters"}, "transform": [{"filter": "datum.panel=='f'"}], "mark": {"type": "text", "fontSize": 11, "color": "#333333"},
  "encoding": {"x": {"field": "x", "type": "quantitative", "scale": {"domain": [7.966, 8.838], "nice": false, "zero": false}}, "y": {"field": "depth", "type": "nominal", "scale": {"type": "point", "domain": ["0-30","30-60"], "padding": 0.6}}, "text": {"field": "letter"}}},
 {"data": {"name": "sig"}, "transform": [{"filter": "datum.panel=='f' && datum.pos=='W1'"}], "mark": {"type": "text", "fontWeight": "bold", "fontSize": 9.5, "dy": 33.5},
  "encoding": {"x": {"datum": 8.686, "type": "quantitative", "scale": {"domain": [7.966, 8.838], "nice": false, "zero": false}}, "y": {"datum": "30-60", "type": "nominal", "scale": {"type": "point", "domain": ["0-30","30-60"], "padding": 0.6}}, "text": {"field": "pos"}}},
 {"data": {"name": "sig"}, "transform": [{"filter": "datum.panel=='f' && datum.pos=='W1'"}], "mark": {"type": "text", "fontWeight": "bold", "fontSize": 9, "dy": 33.5},
  "encoding": {"x": {"datum": 8.774, "type": "quantitative", "scale": {"domain": [7.966, 8.838], "nice": false, "zero": false}}, "y": {"datum": "30-60", "type": "nominal", "scale": {"type": "point", "domain": ["0-30","30-60"], "padding": 0.6}}, "text": {"field": "group"}}},
 {"data": {"name": "sig"}, "transform": [{"filter": "datum.panel=='f' && datum.pos=='W2'"}], "mark": {"type": "text", "fontWeight": "bold", "fontSize": 9.5, "dy": 44.5},
  "encoding": {"x": {"datum": 8.686, "type": "quantitative", "scale": {"domain": [7.966, 8.838], "nice": false, "zero": false}}, "y": {"datum": "30-60", "type": "nominal", "scale": {"type": "point", "domain": ["0-30","30-60"], "padding": 0.6}}, "text": {"field": "pos"}}},
 {"data": {"name": "sig"}, "transform": [{"filter": "datum.panel=='f' && datum.pos=='W2'"}], "mark": {"type": "text", "fontWeight": "bold", "fontSize": 9, "dy": 44.5},
  "encoding": {"x": {"datum": 8.774, "type": "quantitative", "scale": {"domain": [7.966, 8.838], "nice": false, "zero": false}}, "y": {"datum": "30-60", "type": "nominal", "scale": {"type": "point", "domain": ["0-30","30-60"], "padding": 0.6}}, "text": {"field": "group"}}},
 {"data": {"name": "titles"}, "transform": [{"filter": "datum.panel=='f'"}], "mark": {"type": "text", "fontWeight": "bold", "fontSize": 19, "align": "left", "baseline": "alphabetic", "dy": -112.5, "dx": 0},
  "encoding": {"x": {"datum": 7.966, "type": "quantitative", "scale": {"domain": [7.966, 8.838], "nice": false, "zero": false}}, "y": {"datum": "0-30", "type": "nominal", "scale": {"type": "point", "domain": ["0-30","30-60"], "padding": 0.6}}, "text": {"field": "tag"}}},
 {"data": {"name": "titles"}, "transform": [{"filter": "datum.panel=='f'"}], "mark": {"type": "text", "fontSize": 17, "fontStyle": "italic", "align": "right", "baseline": "alphabetic", "dy": -112.5},
  "encoding": {"x": {"datum": 8.409, "type": "quantitative", "scale": {"domain": [7.966, 8.838], "nice": false, "zero": false}}, "y": {"datum": "0-30", "type": "nominal", "scale": {"type": "point", "domain": ["0-30","30-60"], "padding": 0.6}}, "text": {"field": "gene"}}},
 {"data": {"name": "titles"}, "transform": [{"filter": "datum.panel=='f'"}], "mark": {"type": "text", "fontSize": 17, "align": "left", "baseline": "alphabetic", "dy": -112.5},
  "encoding": {"x": {"datum": 8.42, "type": "quantitative", "scale": {"domain": [7.966, 8.838], "nice": false, "zero": false}}, "y": {"datum": "0-30", "type": "nominal", "scale": {"type": "point", "domain": ["0-30","30-60"], "padding": 0.6}}, "text": {"field": "name"}}}
]},
{"width": 229, "height": 218, "layer": [
 {"data": {"name": "pts"}, "transform": [{"filter": "datum.panel=='g'"}], "mark": {"type": "rule", "color": "#2a2a2a", "strokeWidth": 1.7},
  "encoding": {"x": {"field": "lo", "type": "quantitative", "scale": {"domain": [5.958, 6.834], "nice": false, "zero": false}, "axis": {"orient": "top", "values": [6.0,6.1,6.2,6.3,6.4,6.5,6.6,6.7,6.8], "labelExpr": "round(datum.value*10)%2==0 ? format(datum.value,'.1f') : ''", "tickOpacity": {"condition": {"test": "round(datum.value*10)%2==0", "value": 1}, "value": 0}, "title": "(gene copies g⁻¹ soil)"}}, "x2": {"field": "hi"},
   "y": {"field": "depth", "type": "nominal", "scale": {"type": "point", "domain": ["0-30","30-60"], "padding": 0.6}, "axis": {"labels": false, "title": null}}}},
 {"data": {"name": "pts"}, "transform": [{"filter": "datum.panel=='g'"}], "mark": {"type": "line", "strokeWidth": 1.5},
  "encoding": {"x": {"field": "mean", "type": "quantitative", "scale": {"domain": [5.958, 6.834], "nice": false, "zero": false}}, "y": {"field": "depth", "type": "nominal", "scale": {"type": "point", "domain": ["0-30","30-60"], "padding": 0.6}}, "color": {"field": "pos", "type": "nominal", "scale": {"domain": ["W1","W2"], "range": ["#1e8c4a","#f2453b"]}, "title": "Rotational positions"}}},
 {"data": {"name": "pts"}, "transform": [{"filter": "datum.panel=='g'"}], "mark": {"type": "point", "filled": false, "strokeWidth": 1.7, "size": 60},
  "encoding": {"x": {"field": "mean", "type": "quantitative", "scale": {"domain": [5.958, 6.834], "nice": false, "zero": false}}, "y": {"field": "depth", "type": "nominal", "scale": {"type": "point", "domain": ["0-30","30-60"], "padding": 0.6}}, "color": {"field": "pos", "type": "nominal", "scale": {"domain": ["W1","W2"], "range": ["#1e8c4a","#f2453b"]}, "title": "Rotational positions"}, "shape": {"field": "pos", "type": "nominal", "scale": {"domain": ["W1","W2"], "range": ["circle","triangle-up"]}, "title": "Rotational positions"}}},
 {"data": {"name": "sig"}, "transform": [{"filter": "datum.panel=='g' && datum.pos=='W1'"}], "mark": {"type": "text", "fontWeight": "bold", "fontSize": 9.5, "dy": 33.5},
  "encoding": {"x": {"datum": 6.683, "type": "quantitative", "scale": {"domain": [5.958, 6.834], "nice": false, "zero": false}}, "y": {"datum": "30-60", "type": "nominal", "scale": {"type": "point", "domain": ["0-30","30-60"], "padding": 0.6}}, "text": {"field": "pos"}}},
 {"data": {"name": "sig"}, "transform": [{"filter": "datum.panel=='g' && datum.pos=='W1'"}], "mark": {"type": "text", "fontWeight": "bold", "fontSize": 9, "dy": 33.5},
  "encoding": {"x": {"datum": 6.77, "type": "quantitative", "scale": {"domain": [5.958, 6.834], "nice": false, "zero": false}}, "y": {"datum": "30-60", "type": "nominal", "scale": {"type": "point", "domain": ["0-30","30-60"], "padding": 0.6}}, "text": {"field": "group"}}},
 {"data": {"name": "sig"}, "transform": [{"filter": "datum.panel=='g' && datum.pos=='W2'"}], "mark": {"type": "text", "fontWeight": "bold", "fontSize": 9.5, "dy": 44.5},
  "encoding": {"x": {"datum": 6.683, "type": "quantitative", "scale": {"domain": [5.958, 6.834], "nice": false, "zero": false}}, "y": {"datum": "30-60", "type": "nominal", "scale": {"type": "point", "domain": ["0-30","30-60"], "padding": 0.6}}, "text": {"field": "pos"}}},
 {"data": {"name": "sig"}, "transform": [{"filter": "datum.panel=='g' && datum.pos=='W2'"}], "mark": {"type": "text", "fontWeight": "bold", "fontSize": 9, "dy": 44.5},
  "encoding": {"x": {"datum": 6.77, "type": "quantitative", "scale": {"domain": [5.958, 6.834], "nice": false, "zero": false}}, "y": {"datum": "30-60", "type": "nominal", "scale": {"type": "point", "domain": ["0-30","30-60"], "padding": 0.6}}, "text": {"field": "group"}}},
 {"data": {"name": "titles"}, "transform": [{"filter": "datum.panel=='g'"}], "mark": {"type": "text", "fontWeight": "bold", "fontSize": 19, "align": "left", "baseline": "alphabetic", "dy": -112.5, "dx": 3},
  "encoding": {"x": {"datum": 5.958, "type": "quantitative", "scale": {"domain": [5.958, 6.834], "nice": false, "zero": false}}, "y": {"datum": "0-30", "type": "nominal", "scale": {"type": "point", "domain": ["0-30","30-60"], "padding": 0.6}}, "text": {"field": "tag"}}},
 {"data": {"name": "titles"}, "transform": [{"filter": "datum.panel=='g'"}], "mark": {"type": "text", "fontSize": 17, "fontStyle": "italic", "align": "right", "baseline": "alphabetic", "dy": -112.5},
  "encoding": {"x": {"datum": 6.22, "type": "quantitative", "scale": {"domain": [5.958, 6.834], "nice": false, "zero": false}}, "y": {"datum": "0-30", "type": "nominal", "scale": {"type": "point", "domain": ["0-30","30-60"], "padding": 0.6}}, "text": {"field": "gene"}}},
 {"data": {"name": "titles"}, "transform": [{"filter": "datum.panel=='g'"}], "mark": {"type": "text", "fontSize": 17, "align": "left", "baseline": "alphabetic", "dy": -112.5},
  "encoding": {"x": {"datum": 6.234, "type": "quantitative", "scale": {"domain": [5.958, 6.834], "nice": false, "zero": false}}, "y": {"datum": "0-30", "type": "nominal", "scale": {"type": "point", "domain": ["0-30","30-60"], "padding": 0.6}}, "text": {"field": "name"}}}
]},
{"width": 229, "height": 218, "layer": [
 {"data": {"name": "pts"}, "transform": [{"filter": "datum.panel=='h'"}], "mark": {"type": "rule", "color": "#2a2a2a", "strokeWidth": 1.7},
  "encoding": {"x": {"field": "lo", "type": "quantitative", "scale": {"domain": [6.979, 7.529], "nice": false, "zero": false}, "axis": {"orient": "top", "values": [7.0,7.05,7.1,7.15,7.2,7.25,7.3,7.35,7.4,7.45,7.5], "labelExpr": "round(datum.value*20)%2==0 ? format(datum.value,'.1f') : ''", "tickOpacity": {"condition": {"test": "round(datum.value*20)%2==0", "value": 1}, "value": 0}, "title": "(gene copies g⁻¹ soil)"}}, "x2": {"field": "hi"},
   "y": {"field": "depth", "type": "nominal", "scale": {"type": "point", "domain": ["0-30","30-60"], "padding": 0.6}, "axis": {"labels": false, "title": null}}}},
 {"data": {"name": "pts"}, "transform": [{"filter": "datum.panel=='h'"}], "mark": {"type": "line", "strokeWidth": 1.5},
  "encoding": {"x": {"field": "mean", "type": "quantitative", "scale": {"domain": [6.979, 7.529], "nice": false, "zero": false}}, "y": {"field": "depth", "type": "nominal", "scale": {"type": "point", "domain": ["0-30","30-60"], "padding": 0.6}}, "color": {"field": "pos", "type": "nominal", "scale": {"domain": ["W1","W2"], "range": ["#1e8c4a","#f2453b"]}, "title": "Rotational positions"}}},
 {"data": {"name": "pts"}, "transform": [{"filter": "datum.panel=='h'"}], "mark": {"type": "point", "filled": false, "strokeWidth": 1.7, "size": 60},
  "encoding": {"x": {"field": "mean", "type": "quantitative", "scale": {"domain": [6.979, 7.529], "nice": false, "zero": false}}, "y": {"field": "depth", "type": "nominal", "scale": {"type": "point", "domain": ["0-30","30-60"], "padding": 0.6}}, "color": {"field": "pos", "type": "nominal", "scale": {"domain": ["W1","W2"], "range": ["#1e8c4a","#f2453b"]}, "title": "Rotational positions"}, "shape": {"field": "pos", "type": "nominal", "scale": {"domain": ["W1","W2"], "range": ["circle","triangle-up"]}, "title": "Rotational positions"}}},
 {"data": {"name": "letters"}, "transform": [{"filter": "datum.panel=='h'"}], "mark": {"type": "text", "fontSize": 11, "color": "#333333"},
  "encoding": {"x": {"field": "x", "type": "quantitative", "scale": {"domain": [6.979, 7.529], "nice": false, "zero": false}}, "y": {"field": "depth", "type": "nominal", "scale": {"type": "point", "domain": ["0-30","30-60"], "padding": 0.6}}, "text": {"field": "letter"}}},
 {"data": {"name": "sig"}, "transform": [{"filter": "datum.panel=='h' && datum.pos=='W1'"}], "mark": {"type": "text", "fontWeight": "bold", "fontSize": 9.5, "dy": 33.5},
  "encoding": {"x": {"datum": 7.433, "type": "quantitative", "scale": {"domain": [6.979, 7.529], "nice": false, "zero": false}}, "y": {"datum": "30-60", "type": "nominal", "scale": {"type": "point", "domain": ["0-30","30-60"], "padding": 0.6}}, "text": {"field": "pos"}}},
 {"data": {"name": "sig"}, "transform": [{"filter": "datum.panel=='h' && datum.pos=='W1'"}], "mark": {"type": "text", "fontWeight": "bold", "fontSize": 9, "dy": 33.5},
  "encoding": {"x": {"datum": 7.488, "type": "quantitative", "scale": {"domain": [6.979, 7.529], "nice": false, "zero": false}}, "y": {"datum": "30-60", "type": "nominal", "scale": {"type": "point", "domain": ["0-30","30-60"], "padding": 0.6}}, "text": {"field": "group"}}},
 {"data": {"name": "sig"}, "transform": [{"filter": "datum.panel=='h' && datum.pos=='W2'"}], "mark": {"type": "text", "fontWeight": "bold", "fontSize": 9.5, "dy": 44.5},
  "encoding": {"x": {"datum": 7.433, "type": "quantitative", "scale": {"domain": [6.979, 7.529], "nice": false, "zero": false}}, "y": {"datum": "30-60", "type": "nominal", "scale": {"type": "point", "domain": ["0-30","30-60"], "padding": 0.6}}, "text": {"field": "pos"}}},
 {"data": {"name": "sig"}, "transform": [{"filter": "datum.panel=='h' && datum.pos=='W2'"}], "mark": {"type": "text", "fontWeight": "bold", "fontSize": 9, "dy": 44.5},
  "encoding": {"x": {"datum": 7.488, "type": "quantitative", "scale": {"domain": [6.979, 7.529], "nice": false, "zero": false}}, "y": {"datum": "30-60", "type": "nominal", "scale": {"type": "point", "domain": ["0-30","30-60"], "padding": 0.6}}, "text": {"field": "group"}}},
 {"data": {"name": "titles"}, "transform": [{"filter": "datum.panel=='h'"}], "mark": {"type": "text", "fontWeight": "bold", "fontSize": 19, "align": "left", "baseline": "alphabetic", "dy": -112.5, "dx": -6},
  "encoding": {"x": {"datum": 6.979, "type": "quantitative", "scale": {"domain": [6.979, 7.529], "nice": false, "zero": false}}, "y": {"datum": "0-30", "type": "nominal", "scale": {"type": "point", "domain": ["0-30","30-60"], "padding": 0.6}}, "text": {"field": "tag"}}},
 {"data": {"name": "titles"}, "transform": [{"filter": "datum.panel=='h'"}], "mark": {"type": "text", "fontSize": 17, "fontStyle": "italic", "align": "right", "baseline": "alphabetic", "dy": -112.5},
  "encoding": {"x": {"datum": 7.142, "type": "quantitative", "scale": {"domain": [6.979, 7.529], "nice": false, "zero": false}}, "y": {"datum": "0-30", "type": "nominal", "scale": {"type": "point", "domain": ["0-30","30-60"], "padding": 0.6}}, "text": {"field": "gene"}}},
 {"data": {"name": "titles"}, "transform": [{"filter": "datum.panel=='h'"}], "mark": {"type": "text", "fontSize": 17, "align": "left", "baseline": "alphabetic", "dy": -112.5},
  "encoding": {"x": {"datum": 7.15, "type": "quantitative", "scale": {"domain": [6.979, 7.529], "nice": false, "zero": false}}, "y": {"datum": "0-30", "type": "nominal", "scale": {"type": "point", "domain": ["0-30","30-60"], "padding": 0.6}}, "text": {"field": "name"}}}
]},
{"width": 64, "height": 218, "view": {"stroke": null}, "data": {"name": "strips"}, "transform": [{"filter": "datum.label=='T2'"}], "layer": [
 {"mark": {"type": "rule", "color": "#000000", "strokeWidth": 1.5}, "encoding": {"x": {"datum": 0.34, "type": "quantitative", "scale": {"domain": [0, 1]}, "axis": null}, "y": {"datum": 0.012, "type": "quantitative", "scale": {"domain": [0, 1]}, "axis": null}, "y2": {"datum": 1.31}}},
 {"mark": {"type": "rule", "color": "#000000", "strokeWidth": 1.5}, "encoding": {"x": {"datum": 0.2, "type": "quantitative", "scale": {"domain": [0, 1]}, "axis": null}, "x2": {"datum": 0.34}, "y": {"datum": 1.31, "type": "quantitative", "scale": {"domain": [0, 1]}, "axis": null}}},
 {"mark": {"type": "rule", "color": "#000000", "strokeWidth": 1.5}, "encoding": {"x": {"datum": 0.2, "type": "quantitative", "scale": {"domain": [0, 1]}, "axis": null}, "x2": {"datum": 0.34}, "y": {"datum": 0.012, "type": "quantitative", "scale": {"domain": [0, 1]}, "axis": null}}},
 {"mark": {"type": "rect", "fill": "white", "stroke": "#c8c8c8", "strokeWidth": 1}, "encoding": {"x": {"datum": 0.47, "type": "quantitative", "scale": {"domain": [0, 1]}, "axis": null}, "x2": {"datum": 1.0}, "y": {"datum": 0.569, "type": "quantitative", "scale": {"domain": [0, 1]}, "axis": null}, "y2": {"datum": 0.739}}},
 {"mark": {"type": "text", "angle": 90, "fontWeight": "bold", "fontSize": 17, "color": "#000000"}, "encoding": {"x": {"datum": 0.72, "type": "quantitative", "scale": {"domain": [0, 1]}, "axis": null}, "y": {"datum": 0.656, "type": "quantitative", "scale": {"domain": [0, 1]}, "axis": null}, "text": {"field": "label"}}}
]}
]}
],
"spacing": 18
}
